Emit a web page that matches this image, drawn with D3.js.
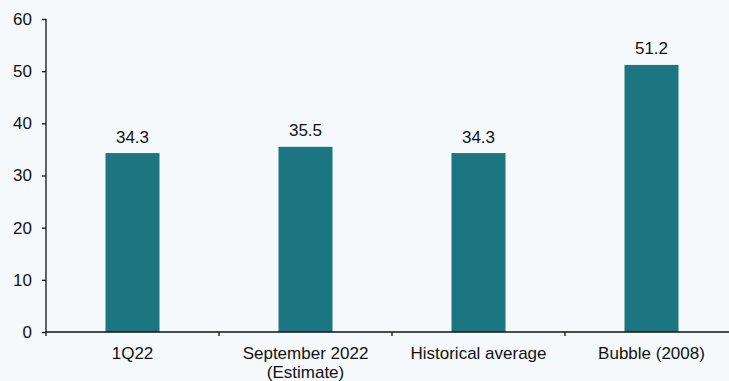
<!DOCTYPE html>
<html>
<head>
<meta charset="utf-8">
<script src="https://cdn.jsdelivr.net/npm/d3@7"></script>
<style>
html,body{margin:0;padding:0;background:#f5f9fb;}
svg{display:block;font-family:"Liberation Sans",Arial,sans-serif;}
</style>
</head>
<body>
<svg id="chart" width="729" height="381"></svg>
<script>
const categories = [["1Q22"], ["September 2022", "(Estimate)"], ["Historical average"], ["Bubble (2008)"]];
const values = [34.3, 35.5, 34.3, 51.2];
const valueLabels = ["34.3", "35.5", "34.3", "51.2"];
const yTicks = [0, 10, 20, 30, 40, 50, 60];

const svg = d3.select("#chart");
const keys = categories.map(c => c.join(" "));
const x = d3.scaleBand().domain(keys).range([46, 738]).paddingInner(0).paddingOuter(0);
const y = d3.scaleLinear().domain([0, 60]).range([332, 19]);
const barW = 54;
const color = "#1b7682";
const fs = 17;

// bars
svg.append("g").selectAll("rect").data(values).join("rect")
  .attr("x", (d, i) => x(keys[i]) + x.bandwidth() / 2 - barW / 2)
  .attr("y", d => y(d))
  .attr("width", barW)
  .attr("height", d => y(0) - y(d))
  .attr("fill", color);

// value labels
svg.append("g").selectAll("text").data(values).join("text")
  .attr("x", (d, i) => x(keys[i]) + x.bandwidth() / 2)
  .attr("y", d => y(d) - 10.5)
  .attr("text-anchor", "middle")
  .attr("font-size", fs)
  .attr("fill", "#111")
  .text((d, i) => valueLabels[i]);

// y axis
const yAxis = svg.append("g").attr("transform", "translate(46,0)")
  .call(d3.axisLeft(y).tickValues(yTicks).tickSize(4).tickPadding(10).tickFormat(d3.format("d")));
yAxis.selectAll("text").attr("font-size", fs).attr("fill", "#111").attr("font-family", "Liberation Sans, Arial, sans-serif");
yAxis.selectAll("line, path").attr("stroke", "#111").attr("stroke-width", 1.3);
yAxis.select(".domain").attr("d", `M0,${y(60)}V${y(0)}`);

// x axis line
svg.append("line").attr("x1", 46).attr("x2", 729).attr("y1", y(0)).attr("y2", y(0))
  .attr("stroke", "#111").attr("stroke-width", 1.5);
// x ticks at band boundaries
const bounds = keys.map(k => x(k));
svg.append("g").selectAll("line").data(bounds).join("line")
  .attr("x1", d => d).attr("x2", d => d)
  .attr("y1", y(0)).attr("y2", y(0) + 4)
  .attr("stroke", "#111").attr("stroke-width", 1.3);

// category labels
const cl = svg.append("g").selectAll("text").data(categories).join("text")
  .attr("x", (d, i) => x(keys[i]) + x.bandwidth() / 2)
  .attr("y", 358.5)
  .attr("text-anchor", "middle")
  .attr("font-size", fs)
  .attr("fill", "#111");
cl.each(function(d) {
  const t = d3.select(this);
  const cx = t.attr("x");
  d.forEach((line, j) => {
    t.append("tspan").attr("x", cx).attr("dy", j === 0 ? 0 : 19).text(line);
  });
});
</script>
</body>
</html>
